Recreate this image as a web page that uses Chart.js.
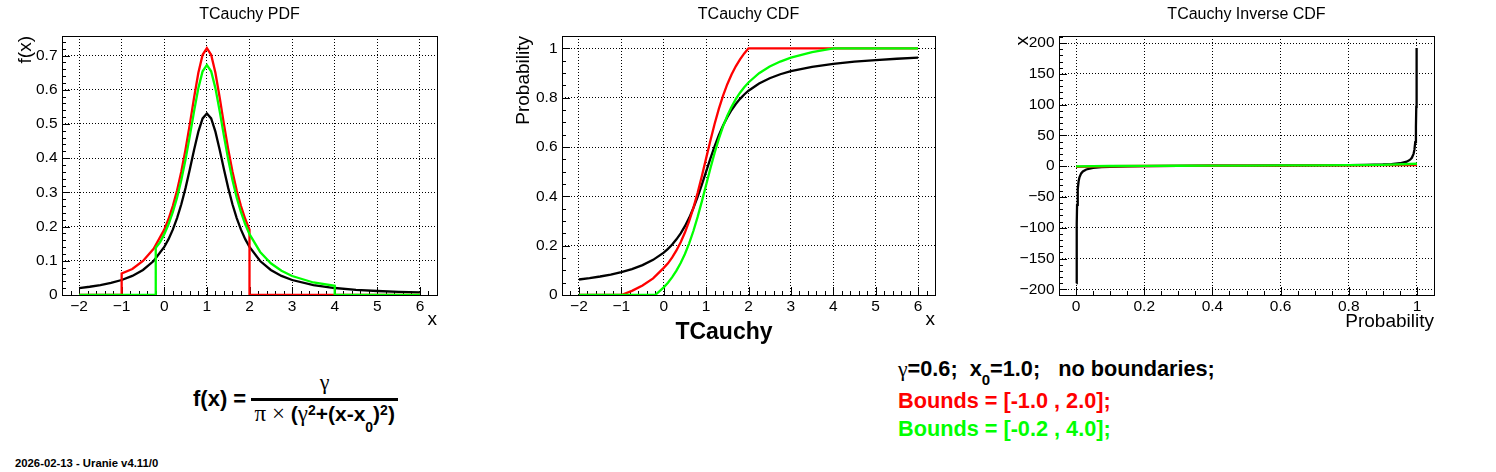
<!DOCTYPE html>
<html>
<head>
<meta charset="utf-8">
<script src="https://cdn.jsdelivr.net/npm/chart.js@4.4.1/dist/chart.umd.min.js"></script>
<style>
html,body{margin:0;padding:0;background:#fff;}
#page{position:relative;width:1496px;height:472px;overflow:hidden;background:#fff;font-family:"Liberation Sans",Arial,Helvetica,sans-serif;color:#000;}
canvas{position:absolute;top:0;}
.t{position:absolute;line-height:1;white-space:pre;margin:0;}
.b{font-weight:bold;}
.sym{font-family:"Liberation Serif","DejaVu Serif",serif;font-weight:normal;}
.dsym{font-family:"Liberation Serif","DejaVu Serif",serif;font-weight:normal;font-size:23px;line-height:0;}
.sup{font-size:14px;position:relative;top:-5.5px;line-height:0;}
.sub{font-size:14px;position:relative;top:11px;line-height:0;}
.sub2{font-size:15px;position:relative;top:9px;}
</style>
</head>
<body>
<div id="page">
  <canvas id="cPdf" width="498" height="340" style="left:0px"></canvas>
  <canvas id="cCdf" width="498" height="340" style="left:498px"></canvas>
  <canvas id="cInv" width="499" height="340" style="left:997px"></canvas>

  <div class="t b" style="left:624px;width:200px;text-align:center;top:320px;font-size:23px">TCauchy</div>

  <div class="t b" style="left:193px;top:388px;font-size:22px">f(x) =</div>
  <div class="t sym" style="left:274.7px;width:100px;text-align:center;top:370.8px;font-size:22px">γ</div>
  <div style="position:absolute;left:251.3px;top:398.3px;width:146.7px;height:2.5px;background:#000"></div>
  <div class="t b" style="left:224.7px;width:200px;text-align:center;top:402.7px;font-size:21px"><span class="dsym">π</span> <span class="dsym">×</span> (<span class="dsym">γ</span><span class="sup">2</span>+(x-x<span class="sub">0</span>)<span class="sup">2</span>)</div>

  <div class="t b" style="left:898px;top:358.3px;font-size:21.7px"><span class="sym">γ</span>=0.6;  x<span class="sub2">0</span>=1.0;   no boundaries;</div>
  <div class="t b" style="left:898px;top:389.9px;font-size:21.7px;color:#ff0000">Bounds = [-1.0 , 2.0];</div>
  <div class="t b" style="left:898px;top:418.3px;font-size:21.7px;color:#00ff00">Bounds = [-0.2 , 4.0];</div>

  <div class="t b" style="left:15px;top:458px;font-size:11.3px">2026-02-13 - Uranie v4.11/0</div>
</div>
<script>
// ---------- PDF ----------
const pdfX = [-2,-1.75,-1.5,-1.25,-1,-0.75,-0.5,-0.25,0,0.1,0.2,0.3,0.4,0.5,0.6,0.7,0.8,0.9,1,1.1,1.2,1.3,1.4,1.5,1.6,1.7,1.8,1.9,2,2.25,2.5,2.75,3,3.5,4,4.5,5,5.5,6];
const pdfBlack = [0.0204,0.0241,0.0289,0.0352,0.0438,0.0558,0.0732,0.0993,0.1404,0.1632,0.1910,0.2247,0.2653,0.3131,0.3673,0.4244,0.4775,0.5162,0.5305,0.5162,0.4775,0.4244,0.3673,0.3131,0.2653,0.2247,0.1910,0.1632,0.1404,0.0993,0.0732,0.0558,0.0438,0.0289,0.0204,0.0152,0.0117,0.0093,0.0075];
const redPdfX = [-2,-1,-1,-0.75,-0.5,-0.25,0,0.1,0.2,0.3,0.4,0.5,0.6,0.7,0.8,0.9,1,1.1,1.2,1.3,1.4,1.5,1.6,1.7,1.8,1.9,2,2,6];
const redPdfY = [0,0,0.063,0.0759,0.0995,0.1351,0.1910,0.2220,0.2598,0.3056,0.3608,0.4259,0.4996,0.5773,0.6495,0.7021,0.7216,0.7021,0.6495,0.5773,0.4996,0.4259,0.3608,0.3056,0.2598,0.2220,0.1910,0,0];
const greenPdfX = [-2,-0.2,-0.2,-0.1,0,0.1,0.2,0.3,0.4,0.5,0.6,0.7,0.8,0.9,1,1.1,1.2,1.3,1.4,1.5,1.6,1.7,1.8,1.9,2,2.25,2.5,2.75,3,3.5,4,4,6];
const greenPdfY = [0,0,0.1380,0.1541,0.1779,0.2067,0.2419,0.2846,0.3359,0.3965,0.4652,0.5375,0.6047,0.6538,0.6719,0.6538,0.6047,0.5375,0.4652,0.3965,0.3359,0.2846,0.2419,0.2067,0.1779,0.1258,0.0927,0.0707,0.0555,0.0366,0.0270,0,0];

// ---------- CDF ----------
const cdfX = [-2,-1.75,-1.5,-1.25,-1,-0.75,-0.5,-0.25,0,0.1,0.2,0.3,0.4,0.5,0.6,0.7,0.8,0.9,1,1.1,1.2,1.3,1.4,1.5,1.6,1.7,1.8,1.9,2,2.25,2.5,2.75,3,3.5,4,4.5,5,5.5,6];
const cdfBlack = [0.0628,0.0684,0.0750,0.0830,0.0928,0.1051,0.1211,0.1424,0.1720,0.1872,0.2048,0.2256,0.2500,0.2789,0.3128,0.3524,0.3976,0.4474,0.5000,0.5526,0.6024,0.6476,0.6872,0.7211,0.7500,0.7744,0.7952,0.8128,0.8280,0.8576,0.8789,0.8949,0.9072,0.9250,0.9372,0.9460,0.9526,0.9578,0.9620];
const redCdfX = [-2,-1,-0.75,-0.5,-0.25,0,0.1,0.2,0.3,0.4,0.5,0.6,0.7,0.8,0.9,1,1.1,1.2,1.3,1.4,1.5,1.6,1.7,1.8,1.9,2,6];
const redCdfY = [0,0,0.0168,0.0385,0.0675,0.1100,0.1284,0.1524,0.1806,0.2138,0.2531,0.2993,0.3531,0.4146,0.4824,0.5539,0.6254,0.6932,0.7546,0.8085,0.8547,0.8939,0.9272,0.9554,0.9794,1,1];
const greenCdfX = [-2,-0.2,0,0.1,0.2,0.3,0.4,0.5,0.6,0.7,0.8,0.9,1,1.1,1.2,1.3,1.4,1.5,1.6,1.7,1.8,1.9,2,2.25,2.5,2.75,3,3.5,4,6];
const greenCdfY = [0,0,0.0309,0.0501,0.0725,0.0988,0.1297,0.1663,0.2093,0.2594,0.3166,0.3797,0.4463,0.5129,0.5760,0.6332,0.6834,0.7264,0.7629,0.7939,0.8201,0.8425,0.8617,0.8991,0.9261,0.9464,0.9620,0.9846,1,1];

// ---------- Inverse CDF ----------
const invP = [0.001,0.002,0.003,0.005,0.0075,0.01,0.015,0.02,0.03,0.05,0.075,0.1,0.15,0.2,0.3,0.4,0.5,0.6,0.7,0.8,0.85,0.9,0.925,0.95,0.97,0.98,0.985,0.99,0.9925,0.995,0.997,0.998,0.999];
const invBlack = [-190.0,-94.5,-62.7,-37.2,-24.5,-18.1,-11.7,-8.5,-5.35,-2.79,-1.50,-0.85,-0.18,0.17,0.56,0.81,1.0,1.19,1.44,1.83,2.18,2.85,3.50,4.79,7.35,10.54,13.72,20.09,26.46,39.19,64.66,96.49,192.0];
const invBoundP = [0,0.1,0.2,0.3,0.4,0.5,0.6,0.7,0.8,0.9,1];
const invRed = [-1,-0.04,0.36,0.60,0.78,0.92,1.06,1.21,1.38,1.62,2.0];
const invGreen = [-0.2,0.30,0.58,0.77,0.93,1.08,1.24,1.44,1.72,2.25,4.0];

// ---------- ticks ----------
const pdfXTicks = [-2,-1,0,1,2,3,4,5,6];
const pdfXLabels = ['\u22122','\u22121','0','1','2','3','4','5','6'];
const pdfYTicks = [0,0.1,0.2,0.3,0.4,0.5,0.6,0.7];
const pdfYLabels = ['0','0.1','0.2','0.3','0.4','0.5','0.6','0.7'];
const cdfYTicks = [0,0.2,0.4,0.6,0.8,1];
const cdfYLabels = ['0','0.2','0.4','0.6','0.8','1'];
const invXTicks = [0,0.2,0.4,0.6,0.8,1];
const invXLabels = ['0','0.2','0.4','0.6','0.8','1'];
const invYTicks = [-200,-150,-100,-50,0,50,100,150,200];
const invYLabels = ['\u2212200','\u2212150','\u2212100','\u221250','0','50','100','150','200'];

const BLACK = '#000000', RED = '#ff0000', GREEN = '#00ff00';
Chart.defaults.font.family = '"Liberation Sans", Arial, Helvetica, sans-serif';
Chart.defaults.color = '#000';

const frameTicks = {
  id: 'frameTicks',
  beforeDatasetsDraw(chart, args, opts) {
    const ctx = chart.ctx, a = chart.chartArea, xs = chart.scales.x, ys = chart.scales.y;
    ctx.save();
    ctx.strokeStyle = '#000';
    ctx.lineWidth = 1;
    ctx.beginPath();
    const near = (v, s) => Math.abs(v / s - Math.round(v / s)) < 1e-6;
    for (let i = Math.ceil(xs.min / opts.xMinor - 1e-9); i * opts.xMinor <= xs.max + 1e-9; i++) {
      const v = i * opts.xMinor;
      const px = Math.round(xs.getPixelForValue(v)) + 0.5;
      const len = near(v, opts.xMajor) ? 8 : 4;
      ctx.moveTo(px, a.bottom); ctx.lineTo(px, a.bottom - len);
    }
    for (let i = Math.ceil(ys.min / opts.yMinor - 1e-9); i * opts.yMinor <= ys.max + 1e-9; i++) {
      const v = i * opts.yMinor;
      const py = Math.round(ys.getPixelForValue(v)) + 0.5;
      const len = near(v, opts.yMajor) ? 8 : 4;
      ctx.moveTo(a.left, py); ctx.lineTo(a.left + len, py);
    }
    ctx.stroke();
    ctx.strokeRect(Math.round(a.left) + 0.5, Math.round(a.top) + 0.5, Math.round(a.right - a.left), Math.round(a.bottom - a.top));
    ctx.restore();
  }
};

function series(xs, ys, color, order) {
  return {
    data: xs.map((x, i) => ({ x: x, y: ys[i] })),
    borderColor: color, backgroundColor: color, borderWidth: 2.3,
    pointRadius: 0, fill: false, tension: 0, order: order
  };
}

function makeChart(id, c) {
  return new Chart(document.getElementById(id), {
    type: 'line',
    data: { datasets: c.datasets },
    options: {
      responsive: false,
      animation: false,
      events: [],
      layout: { padding: { left: 0, right: c.padRight, top: 5, bottom: 5 } },
      plugins: {
        legend: { display: false },
        tooltip: { enabled: false },
        title: { display: true, text: c.title, color: '#000', fullSize: false,
                 font: { size: 16, weight: 'normal' }, padding: { top: 0, bottom: 11.8 } },
        frameTicks: c.minor
      },
      scales: {
        x: {
          type: 'linear', min: c.xMin, max: c.xMax,
          afterBuildTicks: s => { s.ticks = c.xTicks.map(v => ({ value: v })); },
          afterFit: s => { s.height = 40; },
          ticks: { callback: (v, i) => c.xLabels[i], color: '#000', font: { size: 15.5 }, padding: 2, maxRotation: 0, autoSkip: false },
          grid: { color: '#000', lineWidth: 1, drawTicks: false },
          border: { display: false, dash: [1, 2] },
          title: { display: true, text: c.xTitle, align: 'end', color: '#000', font: { size: 19 }, padding: { top: 0, bottom: c.xTitlePad } }
        },
        y: {
          type: 'linear', min: c.yMin, max: c.yMax,
          afterBuildTicks: s => { s.ticks = c.yTicks.map(v => ({ value: v })); },
          afterFit: s => { s.width = c.yWidth; },
          ticks: { callback: (v, i) => c.yLabels[i], color: '#000', font: { size: 15.5 }, padding: 4.5, autoSkip: false },
          grid: { color: '#000', lineWidth: 1, drawTicks: false },
          border: { display: false, dash: [1, 2] },
          title: { display: true, text: c.yTitle, align: 'end', color: '#000', font: { size: 19 }, padding: { top: 14.5, bottom: 0 } }
        }
      }
    },
    plugins: [frameTicks]
  });
}

makeChart('cPdf', {
  title: 'TCauchy PDF', xTitle: 'x', yTitle: 'f(x)', xTitlePad: 4,
  xMin: -2.4, xMax: 6.4, yMin: 0, yMax: 0.757,
  xTicks: pdfXTicks, xLabels: pdfXLabels, yTicks: pdfYTicks, yLabels: pdfYLabels,
  yWidth: 62, padRight: 61,
  minor: { xMinor: 0.2, xMajor: 1, yMinor: 0.02, yMajor: 0.1 },
  datasets: [series(pdfX, pdfBlack, BLACK, 3), series(redPdfX, redPdfY, RED, 2), series(greenPdfX, greenPdfY, GREEN, 1)]
});

makeChart('cCdf', {
  title: 'TCauchy CDF', xTitle: 'x', yTitle: 'Probability', xTitlePad: 4,
  xMin: -2.4, xMax: 6.4, yMin: 0, yMax: 1.05,
  xTicks: pdfXTicks, xLabels: pdfXLabels, yTicks: cdfYTicks, yLabels: cdfYLabels,
  yWidth: 64, padRight: 61,
  minor: { xMinor: 0.2, xMajor: 1, yMinor: 0.05, yMajor: 0.2 },
  datasets: [series(cdfX, cdfBlack, BLACK, 3), series(redCdfX, redCdfY, RED, 2), series(greenCdfX, greenCdfY, GREEN, 1)]
});

makeChart('cInv', {
  title: 'TCauchy Inverse CDF', xTitle: 'Probability', yTitle: 'x', xTitlePad: 2,
  xMin: -0.05, xMax: 1.05, yMin: -209.2, yMax: 211.5,
  xTicks: invXTicks, xLabels: invXLabels, yTicks: invYTicks, yLabels: invYLabels,
  yWidth: 62, padRight: 62,
  minor: { xMinor: 0.05, xMajor: 0.2, yMinor: 10, yMajor: 50 },
  datasets: [series(invP, invBlack, BLACK, 3), series(invBoundP, invRed, RED, 2), series(invBoundP, invGreen, GREEN, 1)]
});
</script>
</body>
</html>
